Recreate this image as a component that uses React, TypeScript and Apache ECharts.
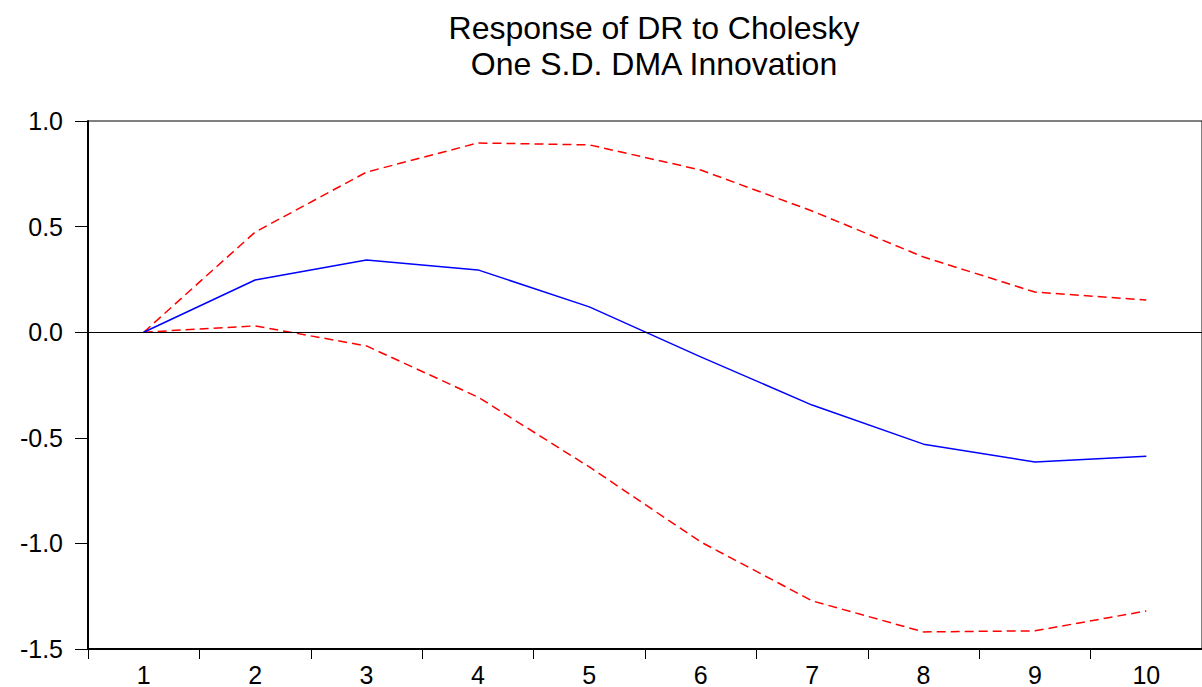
import React, { useEffect, useRef } from "react";
import * as echarts from "echarts";

const periods = ["1", "2", "3", "4", "5", "6", "7", "8", "9", "10"];
const response = [0, 0.247, 0.342, 0.295, 0.12, -0.117, -0.345, -0.53, -0.615, -0.587];
const upperBand = [0, 0.474, 0.758, 0.896, 0.887, 0.768, 0.574, 0.356, 0.19, 0.152];
const lowerBand = [0, 0.03, -0.065, -0.307, -0.638, -0.993, -1.272, -1.419, -1.414, -1.32];

const FONT = "'Liberation Sans', Arial, sans-serif";

export default function App() {
  const ref = useRef<HTMLDivElement>(null);
  useEffect(() => {
    if (!ref.current) return;
    const chart = echarts.init(ref.current, null, { renderer: "svg" });
    chart.setOption({
      animation: false,
      backgroundColor: "#ffffff",
      title: {
        text: "Response of DR to Cholesky\nOne S.D. DMA Innovation",
        left: 649,
        textAlign: "center",
        top: 5,
        textStyle: {
          fontFamily: FONT,
          fontSize: 32,
          fontWeight: "normal",
          color: "#000",
          lineHeight: 36,
        },
      },
      grid: {
        left: 88,
        top: 121,
        right: -6,
        bottom: 38,
        containLabel: false,
        show: true,
        borderColor: "#000",
        borderWidth: 1,
      },
      xAxis: {
        type: "category",
        data: periods,
        boundaryGap: true,
        axisLine: { onZero: false, lineStyle: { color: "#000", width: 2 } },
        axisTick: { show: true, alignWithLabel: false, length: 10, lineStyle: { color: "#000", width: 1 } },
        axisLabel: { fontFamily: FONT, fontSize: 25, lineHeight: 25, color: "#000", margin: 13 },
        splitLine: { show: false },
      },
      yAxis: {
        type: "value",
        min: -1.5,
        max: 1.0,
        interval: 0.5,
        axisLine: { show: true, lineStyle: { color: "#000", width: 2 } },
        axisTick: { show: true, length: 13, lineStyle: { color: "#000", width: 1 } },
        axisLabel: {
          fontFamily: FONT,
          fontSize: 25,
          color: "#000",
          margin: 25,
          padding: [0, 0, 12, 0],
          formatter: (v: number) => v.toFixed(1),
        },
        splitLine: { show: false },
      },
      series: [
        {
          type: "line",
          data: response,
          symbol: "none",
          lineStyle: { color: "#0000ff", width: 1.5 },
          markLine: {
            silent: true,
            symbol: "none",
            label: { show: false },
            lineStyle: { color: "#000", width: 1, type: "solid" },
            data: [{ yAxis: 0 }],
          },
          z: 3,
        },
        {
          type: "line",
          data: upperBand,
          symbol: "none",
          lineStyle: { color: "#ff0000", width: 1.5, type: [9, 5] },
          z: 2,
        },
        {
          type: "line",
          data: lowerBand,
          symbol: "none",
          lineStyle: { color: "#ff0000", width: 1.5, type: [9, 5] },
          z: 2,
        },
      ],
    });
    return () => chart.dispose();
  }, []);
  return (
    <div
      ref={ref}
      style={{ position: "absolute", left: 0, top: 0, width: 1202, height: 687, background: "#fff" }}
    />
  );
}
